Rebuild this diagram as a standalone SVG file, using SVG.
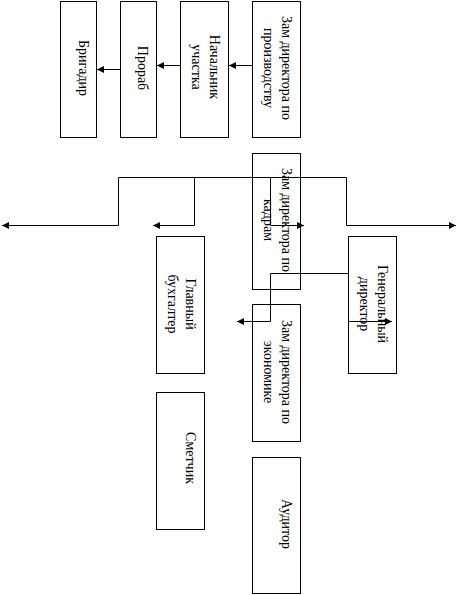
<svg xmlns="http://www.w3.org/2000/svg" width="457" height="595" viewBox="0 0 457 595">
<style>
.box{fill:#fff;stroke:#000;stroke-width:1}
.t{font-family:"Liberation Serif","Times New Roman",serif;font-size:14px;fill:#000;text-anchor:middle}
.c{fill:none;stroke:#000;stroke-width:1}
.a{marker-end:url(#ah)}
</style>
<defs>
<marker id="ah" markerUnits="userSpaceOnUse" markerWidth="8" markerHeight="8" refX="7" refY="3.5" orient="auto">
<path d="M0,0 L7,3.5 L0,7 z" fill="#000"/>
</marker>
</defs>
<rect width="457" height="595" fill="#fff"/>
<g id="brigadir">
<rect class="box" x="60.5" y="1.5" width="36" height="136"/>
<text class="t" transform="translate(78.5,68) rotate(90)"><tspan x="0" y="0">Бригадир</tspan></text>
</g>
<g id="prorab">
<rect class="box" x="120.5" y="1.5" width="36" height="136"/>
<text class="t" transform="translate(138,68) rotate(90)"><tspan x="0" y="0">Прораб</tspan></text>
</g>
<g id="nachalnik">
<rect class="box" x="180.5" y="1.5" width="48" height="136"/>
<text class="t" transform="translate(209.5,67) rotate(90)"><tspan x="0" y="0">Начальник</tspan><tspan x="0" y="18">участка</tspan></text>
</g>
<g id="zam-proizv">
<rect class="box" x="252.5" y="1.5" width="48" height="136"/>
<text class="t" transform="translate(281.5,68) rotate(90)"><tspan x="0" y="0">Зам директора по</tspan><tspan x="0" y="18">производству</tspan></text>
</g>
<g id="zam-kadry">
<rect class="box" x="252.5" y="153.5" width="48" height="136"/>
<text class="t" transform="translate(281.5,220) rotate(90)"><tspan x="0" y="0">Зам директора по</tspan><tspan x="0" y="18">кадрам</tspan></text>
</g>
<g id="glavbuh">
<rect class="box" x="156.5" y="236.5" width="48" height="137"/>
<text class="t" transform="translate(185.5,304) rotate(90)"><tspan x="0" y="0">Главный</tspan><tspan x="0" y="18">бухгалтер</tspan></text>
</g>
<g id="gendir">
<rect class="box" x="348.5" y="236.5" width="48" height="137"/>
<text class="t" transform="translate(377.5,304) rotate(90)"><tspan x="0" y="0">Генеральный</tspan><tspan x="0" y="18">директор</tspan></text>
</g>
<g id="zam-ekonom">
<rect class="box" x="252.5" y="304.5" width="48" height="137"/>
<text class="t" transform="translate(281.5,372) rotate(90)"><tspan x="0" y="0">Зам директора по</tspan><tspan x="0" y="18">экономике</tspan></text>
</g>
<g id="smetchik">
<rect class="box" x="156.5" y="392.5" width="48" height="137"/>
<text class="t" transform="translate(185.5,458) rotate(90)"><tspan x="0" y="0">Сметчик</tspan></text>
</g>
<g id="auditor">
<rect class="box" x="252.5" y="457.5" width="48" height="136"/>
<text class="t" transform="translate(281.5,524) rotate(90)"><tspan x="0" y="0">Аудитор</tspan></text>
</g>
<g id="connectors">
<path class="c a" d="M252,65.5 H229"/>
<path class="c a" d="M180,65.5 H157"/>
<path class="c a" d="M120,69.5 H97"/>
<path class="c" d="M118.5,177.5 H346.5"/>
<path class="c a" d="M118.5,177.5 V225.5 H2"/>
<path class="c a" d="M194.5,177.5 V225.5 H153"/>
<path class="c a" d="M270.5,177.5 V225.5 H304"/>
<path class="c a" d="M346.5,177.5 V225.5 H456"/>
<path class="c a" d="M348.5,273.5 H270.5 V321.5 H237"/>
<path class="c a" d="M348.5,321.5 H392"/>
</g>
</svg>
